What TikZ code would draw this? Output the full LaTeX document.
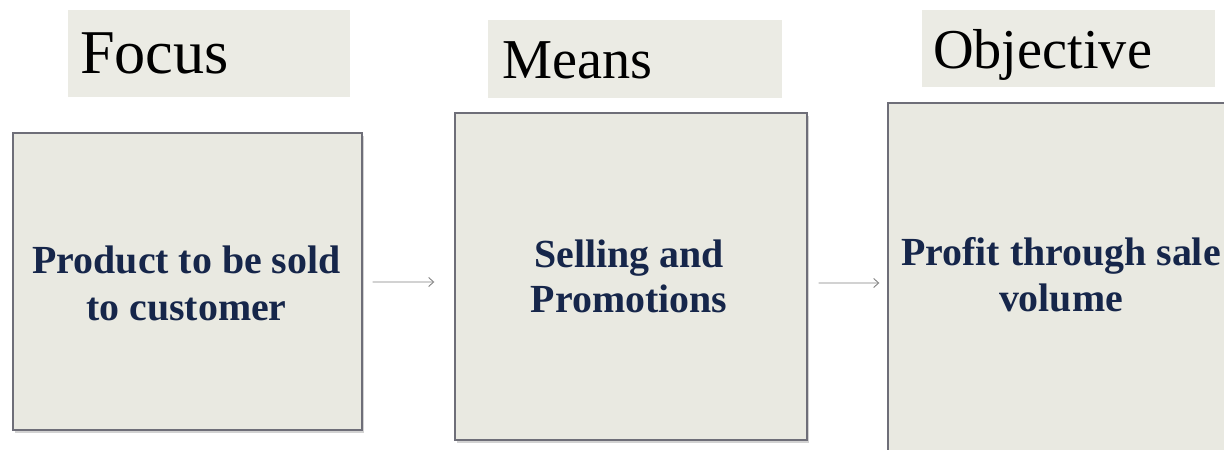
\documentclass[tikz,border=0pt]{standalone}
\usepackage{fontspec}
\setmainfont{Liberation Serif}
\usetikzlibrary{arrows.meta,shadows}
\definecolor{boxfill}{RGB}{233,233,225}
\definecolor{headfill}{RGB}{235,235,228}
\definecolor{boxline}{RGB}{110,110,120}
\definecolor{bodytext}{RGB}{22,38,74}
\definecolor{arrowgray}{RGB}{130,130,130}
\tikzset{
  mainbox/.style={draw=boxline, line width=1.4bp, fill=boxfill, rectangle,
    inner sep=0pt,
    drop shadow={shadow xshift=2bp, shadow yshift=-3bp, opacity=0.35, fill=gray}},
  boxtext/.style={inner sep=0pt, align=center, text=bodytext},
  headbox/.style={fill=headfill, rectangle, inner ysep=0pt, inner xsep=12bp,
    align=left, text=black, text height=39bp, text depth=0pt, anchor=north west},
  conn/.style={draw=arrowgray, line width=0.9bp, -{Straight Barb[length=5bp,width=9bp]}}
}
\begin{document}
\begin{tikzpicture}[x=1bp,y=-1bp]
\useasboundingbox (0,0) rectangle (1224,450);
\clip (0,0) rectangle (1224,450);
\fill[white] (0,0) rectangle (1224,450);
% headings
\node[headbox, minimum width=282bp, minimum height=87bp, text width=258bp,
  font=\fontsize{62.5}{64}\selectfont] (hfocus) at (68,10) {Focus};
\node[headbox, minimum width=294bp, minimum height=78bp, text width=266bp, inner xsep=14bp,
  font=\fontsize{56.5}{60}\selectfont] (hmeans) at (488,20) {Means};
\node[headbox, minimum width=293bp, minimum height=77bp, text width=271bp, inner xsep=11bp,
  font=\fontsize{56.5}{60}\selectfont] (hobj) at (922,10) {Objective};
% main boxes
\node[mainbox, minimum width=349bp, minimum height=297bp] (b1) at (187.5,281.5) {};
\node[mainbox, minimum width=352bp, minimum height=327bp] (b2) at (631,276.5) {};
\node[mainbox, minimum width=352bp, minimum height=357bp] (b3) at (1064,281.5) {};
% box texts
\node[boxtext, font=\bfseries\fontsize{40}{47.5}\selectfont] (t1) at (186.5,283.3)
  {Product to be sold\\to customer};
\node[boxtext, font=\bfseries\fontsize{40}{45}\selectfont] (t2) at (629,276)
  {Selling and\\Promotions};
\node[boxtext, font=\bfseries\fontsize{40}{47}\selectfont] (t3) at (1061,274.7)
  {Profit through sale\\volume};
% connectors
\draw[conn, shorten <=10bp, shorten >=20bp] ([yshift=-0.5bp]b1.east) -- ([yshift=-5.5bp]b2.west);
\draw[conn, shorten <=11bp, shorten >=8bp] ([yshift=-6.5bp]b2.east) -- ([yshift=-1.5bp]b3.west);
\end{tikzpicture}
\end{document}
